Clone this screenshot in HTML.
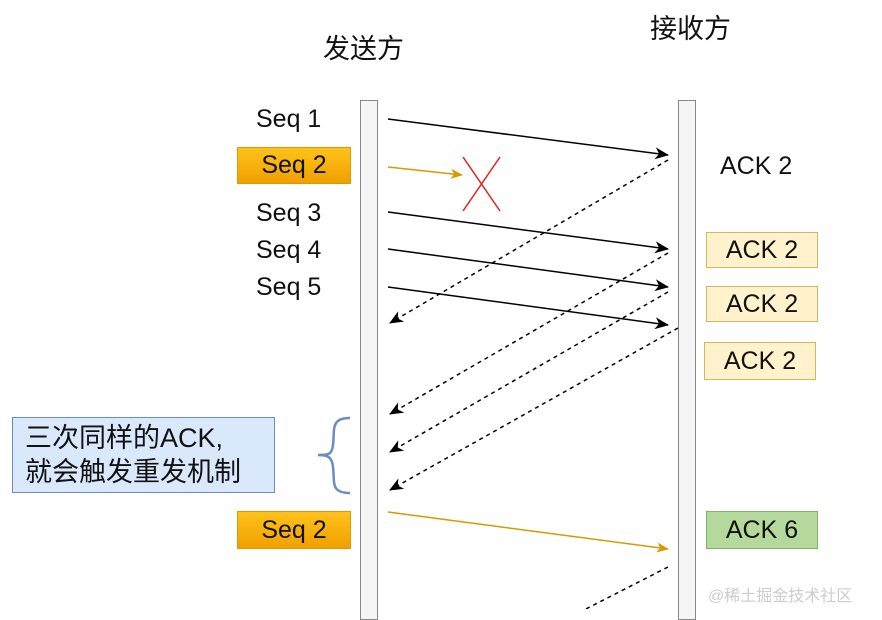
<!DOCTYPE html>
<html><head><style>
body{margin:0;width:882px;height:609px;background:#fff;position:relative;overflow:hidden;font-family:"Liberation Sans","Noto Sans CJK SC",sans-serif;}
.t{position:absolute;font-size:25px;color:#111;white-space:nowrap;}
.b{position:absolute;box-sizing:border-box;display:flex;align-items:center;justify-content:center;font-size:25px;color:#111;}
.o{background:linear-gradient(#ffc21a,#f0a000);border:1px solid #d79b00;}
.y{background:#fff2cc;border:1px solid #d6b656;}
.g{background:#b5d99c;border:1px solid #82b366;}
</style></head><body>
<div class="t" style="left:323px;top:27px;font-size:27px;">发送方</div>
<div class="t" style="left:650px;top:7px;font-size:27px;">接收方</div>
<div style="position:absolute;left:360px;top:100px;width:18px;height:520px;background:#f5f5f5;border:1px solid #888;box-sizing:border-box;"></div>
<div style="position:absolute;left:678px;top:100px;width:18px;height:520px;background:#f5f5f5;border:1px solid #888;box-sizing:border-box;"></div>
<div class="t" style="left:256px;top:105px;">Seq 1</div>
<div class="b o" style="left:237px;top:147px;width:114px;height:37px;">Seq 2</div>
<div class="t" style="left:256px;top:199px;">Seq 3</div>
<div class="t" style="left:256px;top:236px;">Seq 4</div>
<div class="t" style="left:256px;top:273px;">Seq 5</div>
<div class="t" style="left:720px;top:152px;">ACK 2</div>
<div class="b y" style="left:706px;top:232px;width:112px;height:36px;">ACK 2</div>
<div class="b y" style="left:706px;top:286px;width:112px;height:36px;">ACK 2</div>
<div class="b y" style="left:704px;top:342px;width:112px;height:38px;">ACK 2</div>
<div class="b" style="left:12px;top:417px;width:263px;height:76px;background:#dae8fc;border:1px solid #6c8ebf;font-size:27px;line-height:34px;display:block;padding:3px 0 0 12px;white-space:nowrap;">三次同样的ACK,<br>就会触发重发机制</div>
<div class="b o" style="left:237px;top:511px;width:114px;height:38px;">Seq 2</div>
<div class="b g" style="left:706px;top:511px;width:112px;height:38px;">ACK 6</div>
<div style="position:absolute;left:708px;top:582px;font-size:16px;color:#ccc;">@稀土掘金技术社区</div>
<svg width="882" height="609" style="position:absolute;left:0;top:0">
<defs>
<marker id="ay" markerWidth="12" markerHeight="10" refX="11" refY="5" orient="auto" markerUnits="userSpaceOnUse" viewBox="0 0 12 10"><path d="M0,0L12,5L0,10L3,5z" fill="#d79b00"/></marker>
<marker id="ab" markerWidth="14" markerHeight="12" refX="13" refY="6" orient="auto" markerUnits="userSpaceOnUse" viewBox="0 0 14 12"><path d="M0,0L14,6L0,12L4,6z" fill="#000"/></marker>
</defs>
<g stroke="#000" stroke-width="1.5" fill="none">
<line x1="388" y1="119" x2="668" y2="155" marker-end="url(#ab)"/>
<line x1="388" y1="212" x2="668" y2="249" marker-end="url(#ab)"/>
<line x1="388" y1="249" x2="668" y2="287" marker-end="url(#ab)"/>
<line x1="388" y1="287" x2="668" y2="325" marker-end="url(#ab)"/>
</g>
<g stroke="#000" stroke-width="1.5" fill="none" stroke-dasharray="4 4">
<line x1="668" y1="160" x2="390" y2="323" marker-end="url(#ab)"/>
<line x1="668" y1="253" x2="390" y2="414" marker-end="url(#ab)"/>
<line x1="668" y1="292" x2="390" y2="452" marker-end="url(#ab)"/>
<line x1="678" y1="328" x2="390" y2="490" marker-end="url(#ab)"/>
<line x1="668" y1="567" x2="580" y2="612"/>
</g>
<line x1="388" y1="167" x2="462" y2="175" stroke="#d79b00" stroke-width="1.5" marker-end="url(#ay)"/>
<line x1="388" y1="512" x2="668" y2="549" stroke="#d79b00" stroke-width="1.5" marker-end="url(#ay)"/>
<path d="M463,157L500,211M500,157L463,211" stroke="#e02020" stroke-width="1.5"/>
<path d="M350,418 C330,418 335,430 333,445 C332,455 328,455 318,455 C328,455 332,457 333,467 C335,482 330,493 350,493" stroke="#6c8ebf" stroke-width="2.5" fill="none"/>
</svg>
</body></html>
